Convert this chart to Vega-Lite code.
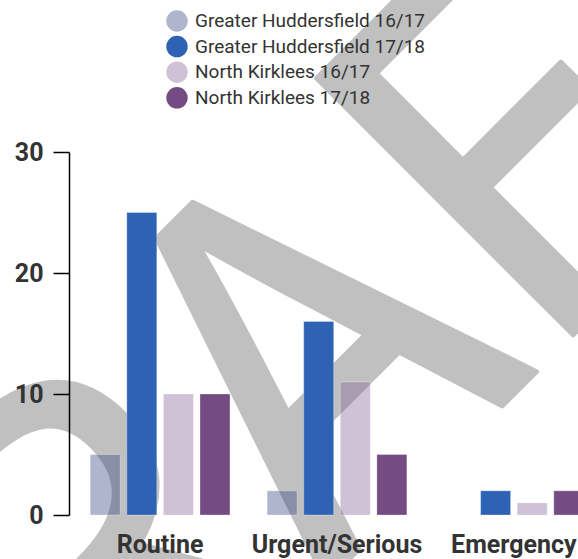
{
  "$schema": "https://vega.github.io/schema/vega-lite/v6.json",
  "width": 536,
  "height": 363,
  "autosize": {"type": "none"},
  "padding": {"left": 69, "top": 152, "right": 0, "bottom": 44},
  "background": "white",
  "config": {
    "font": "Roboto",
    "view": {"stroke": null},
    "legend": {
      "orient": "none",
      "legendX": 97,
      "legendY": -142,
      "direction": "vertical",
      "padding": 0,
      "symbolType": "circle",
      "symbolSize": 460,
      "symbolStrokeWidth": 0,
      "labelFont": "Roboto",
      "labelFontSize": 19,
      "labelColor": "#333333",
      "labelOffset": 7,
      "labelLimit": 0,
      "rowPadding": 3.6,
      "zindex": 1
    }
  },
  "datasets": {
    "bars": [
      {"category": "Routine", "series": "Greater Huddersfield 16/17", "value": 5},
      {"category": "Routine", "series": "Greater Huddersfield 17/18", "value": 25},
      {"category": "Routine", "series": "North Kirklees 16/17", "value": 10},
      {"category": "Routine", "series": "North Kirklees 17/18", "value": 10},
      {"category": "Urgent/Serious", "series": "Greater Huddersfield 16/17", "value": 2},
      {"category": "Urgent/Serious", "series": "Greater Huddersfield 17/18", "value": 16},
      {"category": "Urgent/Serious", "series": "North Kirklees 16/17", "value": 11},
      {"category": "Urgent/Serious", "series": "North Kirklees 17/18", "value": 5},
      {"category": "Emergency", "series": "Greater Huddersfield 16/17", "value": 0},
      {"category": "Emergency", "series": "Greater Huddersfield 17/18", "value": 2},
      {"category": "Emergency", "series": "North Kirklees 16/17", "value": 1},
      {"category": "Emergency", "series": "North Kirklees 17/18", "value": 2}
    ],
    "watermark": [{"label": "DRAFT"}]
  },
  "layer": [
    {
      "data": {"name": "watermark"},
      "mark": {
        "type": "text",
        "font": "Noto Sans CJK JP",
        "fontSize": 495,
        "angle": -45,
        "align": "center",
        "baseline": "alphabetic",
        "fill": "#c0c0c0",
        "stroke": "#c0c0c0",
        "strokeWidth": 5,
        "strokeJoin": "round"
      },
      "encoding": {
        "x": {"datum": "Urgent/Serious", "bandPosition": 0.965},
        "y": {"datum": 0.74},
        "text": {"field": "label"}
      }
    },
    {
      "data": {"name": "bars"},
      "mark": {"type": "bar", "stroke": "white", "strokeOpacity": 0.3, "strokeWidth": 1},
      "encoding": {
        "x": {
          "field": "category",
          "type": "nominal",
          "sort": ["Routine", "Urgent/Serious", "Emergency"],
          "scale": {"paddingInner": 0.21, "paddingOuter": 0.12},
          "axis": {
            "title": null,
            "labelAngle": 0,
            "labelAlign": "center",
            "ticks": false,
            "domain": false,
            "labelPadding": 29,
            "labelFontSize": 25,
            "labelFontWeight": "bold",
            "labelColor": "#333333",
            "zindex": 1
          }
        },
        "xOffset": {
          "field": "series",
          "type": "nominal",
          "sort": ["Greater Huddersfield 16/17", "Greater Huddersfield 17/18", "North Kirklees 16/17", "North Kirklees 17/18"],
          "scale": {"paddingInner": 0.18, "paddingOuter": 0}
        },
        "y": {
          "field": "value",
          "type": "quantitative",
          "scale": {"domain": [0, 30]},
          "axis": {
            "title": null,
            "values": [0, 10, 20, 30],
            "grid": false,
            "tickSize": 16,
            "labelPadding": 10,
            "labelFontSize": 25,
            "labelFontWeight": "bold",
            "labelColor": "#333333",
            "domainColor": "#000000",
            "tickColor": "#000000",
            "domainWidth": 1.5,
            "tickWidth": 1.5,
            "zindex": 1
          }
        },
        "color": {
          "field": "series",
          "type": "nominal",
          "scale": {
            "domain": ["Greater Huddersfield 16/17", "Greater Huddersfield 17/18", "North Kirklees 16/17", "North Kirklees 17/18"],
            "range": ["rgba(52,70,127,0.4)", "#2d62b4", "rgba(135,100,152,0.4)", "#744b82"]
          },
          "legend": {"title": null}
        }
      }
    }
  ]
}
